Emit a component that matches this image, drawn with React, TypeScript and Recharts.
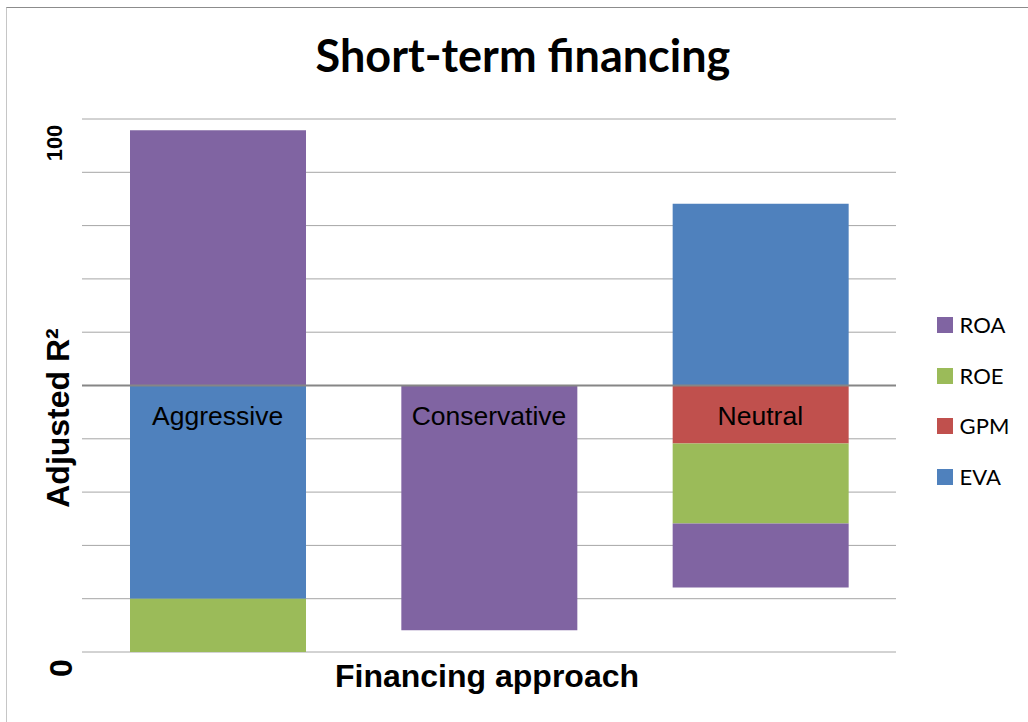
import React from 'react';
import { BarChart, Bar, XAxis, YAxis, CartesianGrid, ReferenceLine, ReferenceDot, Label } from 'recharts';

const categories = ['Aggressive', 'Conservative', 'Neutral'];
const evaValues = [-40, 0, 34.1];
const gpmValues = [0, 0, -10.9];
const roeValues = [-10.1, 0, -15];
const roaValues = [47.9, -45.9, -12];

const gridValues = [-50, -40, -30, -20, -10, 0, 10, 20, 30, 40, 50];
const yTickValues = [-53, 45.5];
const yTickLabels = ['0', '100'];

const seriesNames = ['EVA', 'GPM', 'ROE', 'ROA'];
const seriesColors = ['#4F81BD', '#C0504D', '#9BBB59', '#8064A2'];
const seriesValues = [evaValues, gpmValues, roeValues, roaValues];
const legendOrder = ['ROA', 'ROE', 'GPM', 'EVA'];

const data = categories.map((name, i) => {
  const row: Record<string, any> = { name };
  seriesNames.forEach((s, j) => {
    row[s] = seriesValues[j][i];
  });
  return row;
});

const ARIAL = '"Liberation Sans", Arial, sans-serif';
const LATO = 'Lato, "Open Sans", sans-serif';

const YTick = (props: any) => {
  const { y, payload } = props;
  const idx = yTickValues.indexOf(payload.value);
  const label = yTickLabels[idx] ?? '';
  const big = label === '0';
  const fs = big ? 32 : 22;
  const bx = big ? 63.7 : 53.7;
  return (
    <text
      x={bx}
      y={y}
      transform={`rotate(-90, ${bx}, ${y})`}
      textAnchor="middle"
      fontSize={fs}
      fontWeight="bold"
      fontFamily={ARIAL}
      fill="#000"
    >
      {label}
    </text>
  );
};

const YTitle = (props: any) => {
  const vb = props.viewBox || { x: 0, y: 111, width: 74, height: 533 };
  const x = vb.x + 61;
  const y = vb.y + vb.height / 2 + 32.5;
  return (
    <text
      x={x}
      y={y}
      transform={`rotate(-90, ${x}, ${y})`}
      textAnchor="middle"
      fontSize={32}
      fontWeight="bold"
      fontFamily={ARIAL}
      fill="#000"
    >
      Adjusted R²
    </text>
  );
};

const XTitle = (props: any) => {
  const vb = props.viewBox || { x: 74, y: 644, width: 814, height: 62 };
  return (
    <text
      x={vb.x + vb.width / 2 - 2}
      y={vb.y + 34.7}
      textAnchor="middle"
      fontSize={32}
      fontWeight="bold"
      fontFamily={ARIAL}
      fill="#000"
    >
      Financing approach
    </text>
  );
};

const makeCategoryLabel = (name: string) => (p: any) => (
  <text
    x={p.cx}
    y={p.cy + 39}
    textAnchor="middle"
    fontSize={26.5}
    fontFamily={ARIAL}
    fill="#000"
  >
    {name}
  </text>
);

export default function App() {
  return (
    <div>
      <div
        style={{
          position: 'absolute',
          left: 6,
          top: 7,
          width: 1022,
          height: 715,
          boxSizing: 'border-box',
          borderTop: '1px solid #8c8c8c',
          borderLeft: '1px solid #c6c6c6',
          pointerEvents: 'none',
        }}
      />
      <div style={{ position: 'relative', width: 1012, height: 706 }}>
        <BarChart
          width={1012}
          height={706}
          data={data}
          stackOffset="sign"
          margin={{ top: 111, right: 124, bottom: 0, left: 0 }}
        >
          <text
            x={515}
            y={64}
            textAnchor="middle"
            fontSize={45}
            fontWeight="bold"
            fontFamily={LATO}
            fill="#000"
          >
            Short-term financing
          </text>
          <CartesianGrid
            vertical={false}
            horizontalValues={gridValues}
            stroke="#a6a6a6"
            strokeWidth={1}
          />
          <XAxis
            dataKey="name"
            tick={false}
            axisLine={false}
            tickLine={false}
            height={62}
          >
            <Label content={<XTitle />} />
          </XAxis>
          <YAxis
            type="number"
            domain={[-50, 50]}
            allowDataOverflow
            ticks={yTickValues}
            interval={0}
            width={74}
            axisLine={false}
            tickLine={false}
            tick={<YTick />}
          >
            <Label content={<YTitle />} />
          </YAxis>
          {seriesNames.map((s, j) => (
            <Bar
              key={s}
              dataKey={s}
              stackId="a"
              fill={seriesColors[j]}
              barSize={176}
              isAnimationActive={false}
            />
          ))}
          <ReferenceLine y={0} stroke="#868686" strokeWidth={2} />
          {categories.map((c) => (
            <ReferenceDot
              key={c}
              x={c}
              y={0}
              r={1}
              ifOverflow="visible"
              shape={makeCategoryLabel(c)}
            />
          ))}
        </BarChart>
        <div style={{ position: 'absolute', left: 929, top: 291.5 }}>
          {legendOrder.map((name) => {
            const color = seriesColors[seriesNames.indexOf(name)];
            return (
              <div
                key={name}
                style={{
                  height: 50.7,
                  display: 'flex',
                  alignItems: 'center',
                  whiteSpace: 'nowrap',
                }}
              >
                <div style={{ width: 16, height: 16, background: color, marginRight: 6.6 }} />
                <span style={{ fontFamily: LATO, fontSize: 22, color: '#000', lineHeight: 1 }}>{name}</span>
              </div>
            );
          })}
        </div>
      </div>
    </div>
  );
}
